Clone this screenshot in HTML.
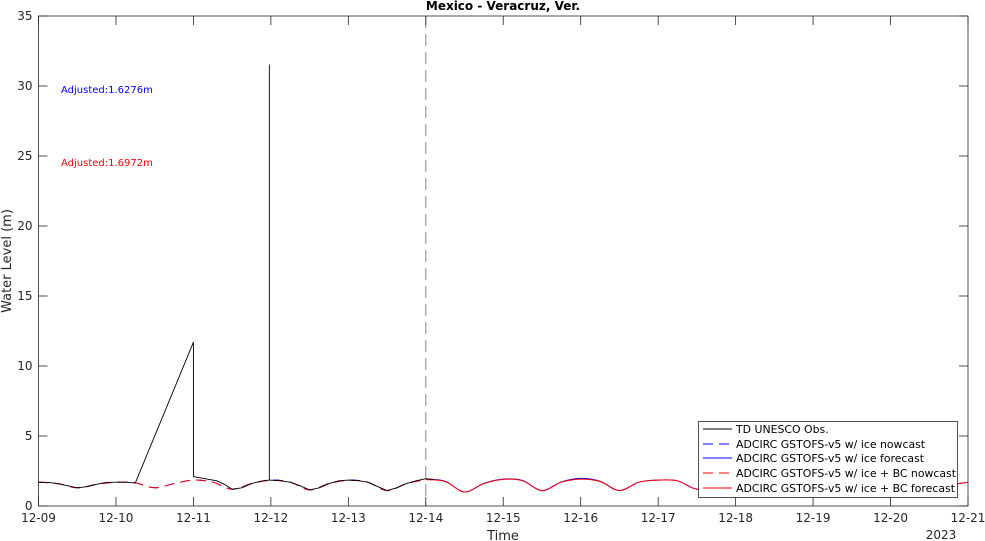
<!DOCTYPE html>
<html><head><meta charset="utf-8">
<style>
body{margin:0;background:#fff;}
svg{display:block;font-family:"DejaVu Sans","Liberation Sans",sans-serif;}
</style></head>
<body>
<svg id="chart" width="985" height="541" viewBox="0 0 985 541" xmlns="http://www.w3.org/2000/svg">
<rect x="0" y="0" width="985" height="541" fill="#fff"/>
<g id="series"></g>
<g id="axes"></g>
</svg>
<script>
// ---- data ----
const xTickLabels = ["12-09","12-10","12-11","12-12","12-13","12-14","12-15","12-16","12-17","12-18","12-19","12-20","12-21"];
const yTickValues = [0,5,10,15,20,25,30,35];
// model values every 6 h starting 12-09 00:00 (day offset)
const modelIce = [1.7,1.6,1.3,1.55, 1.7,1.65,1.3,1.6, 1.85,1.7,1.2,1.6, 1.85,1.7,1.15,1.6, 1.85,1.7,1.1,1.6, 1.92,1.77,1.0,1.62, 1.92,1.82,1.1,1.72, 1.97,1.77,1.1,1.7, 1.85,1.8,1.2,1.6, 1.7,1.6,1.3,1.5, 1.65,1.55,1.3,1.5, 1.6,1.55,1.35,1.5, 1.7];
const modelIceBC = [1.7,1.6,1.3,1.55, 1.7,1.65,1.3,1.6, 1.85,1.7,1.2,1.6, 1.83,1.7,1.15,1.6, 1.83,1.7,1.1,1.6, 1.88,1.75,1.0,1.6, 1.9,1.8,1.1,1.7, 1.92,1.75,1.1,1.7, 1.85,1.8,1.2,1.6, 1.7,1.6,1.3,1.5, 1.65,1.55,1.3,1.5, 1.6,1.55,1.35,1.5, 1.7];
const forecastStartDay = 5; // 12-14
// observations: [dayOffset, value]
const obsT = [0,0.125,0.25,0.375,0.5,0.625,0.75,0.875,1,1.125,1.25, 2.0,2.0,2.3,2.4,2.5,2.625,2.75,2.875,2.98,2.98,2.98,3.125,3.25,3.375,3.5,3.625,3.75,3.875,4,4.125,4.25,4.375,4.5,4.625,4.75,4.875,5,5.1];
const obsV = [1.7,1.68,1.6,1.45,1.3,1.38,1.55,1.68,1.7,1.7,1.65, 11.7,2.1,1.8,1.55,1.2,1.3,1.6,1.78,1.85,31.5,1.85,1.8,1.7,1.45,1.15,1.3,1.6,1.8,1.85,1.82,1.7,1.4,1.1,1.3,1.6,1.8,1.95,1.9];

// ---- axes ----
const X0=38.5, X1=968, Y0=506, Y1=16;
const xs = d => X0 + d*(X1-X0)/12;
const ys = v => Y0 - v*(Y0-Y1)/35;
const NS="http://www.w3.org/2000/svg";
function mk(tag, attrs, parent, text){const e=document.createElementNS(NS,tag);for(const k in attrs)e.setAttribute(k,attrs[k]);if(text!==undefined)e.textContent=text;parent.appendChild(e);return e;}
const axes=document.getElementById('axes'), ser=document.getElementById('series');

function smoothPath(pts){
  let d=`M${pts[0][0]},${pts[0][1]}`;
  for(let i=0;i<pts.length-1;i++){
    const p0=pts[i-1]||pts[i],p1=pts[i],p2=pts[i+1],p3=pts[i+2]||p2;
    d+=` C${p1[0]+(p2[0]-p0[0])/6},${p1[1]+(p2[1]-p0[1])/6} ${p2[0]-(p3[0]-p1[0])/6},${p2[1]-(p3[1]-p1[1])/6} ${p2[0]},${p2[1]}`;
  }
  return d;
}
function modelPts(arr,from,to){const p=[];arr.forEach((v,i)=>{const t=i*0.25;if(t>=from-1e-9&&t<=to+1e-9)p.push([xs(t),ys(v)]);});return p;}

const lines=[
 [modelIce,0,forecastStartDay,'#0000ff','10,6','ice-nowcast-line'],
 [modelIce,forecastStartDay,12,'#0000ff',null,'ice-forecast-line'],
 [modelIceBC,0,forecastStartDay,'#ff0000','10,6','ice-bc-nowcast-line'],
 [modelIceBC,forecastStartDay,12,'#ff0000',null,'ice-bc-forecast-line']];
lines.forEach(l=>{
  const a={d:smoothPath(modelPts(l[0],l[1],l[2])),fill:'none',stroke:l[3],'stroke-width':1};
  if(l[4])a['stroke-dasharray']=l[4];
  const e=mk('path',a,ser);
  
  
});
let od='';obsT.forEach((t,i)=>{od+=(i?'L':'M')+xs(t).toFixed(2)+','+ys(obsV[i]).toFixed(2)+' ';});
const ob=mk('path',{d:od,fill:'none',stroke:'#000','stroke-width':0.9,'stroke-linejoin':'round'},ser);



const dv=mk('line',{x1:xs(forecastStartDay),x2:xs(forecastStartDay),y1:Y1,y2:Y0,stroke:'#888','stroke-dasharray':'12,6','stroke-width':1},ser);



const fr=mk('rect',{x:X0,y:Y1,width:X1-X0,height:Y0-Y1,fill:'none',stroke:'#262626','stroke-width':0.8},axes);


xTickLabels.forEach((lab,i)=>{
  const x=xs(i);
  mk('line',{x1:x,x2:x,y1:Y0,y2:Y0-9,stroke:'#262626','stroke-width':0.8},axes);
  mk('line',{x1:x,x2:x,y1:Y1,y2:Y1+9,stroke:'#262626','stroke-width':0.8},axes);
  const t=mk('text',{x:x,y:522,'font-size':12,'text-anchor':'middle',fill:'#262626'},axes,lab);
  
  
});
yTickValues.forEach(v=>{
  const y=ys(v);
  mk('line',{x1:X0,x2:X0+9,y1:y,y2:y,stroke:'#262626','stroke-width':0.8},axes);
  mk('line',{x1:X1,x2:X1-9,y1:y,y2:y,stroke:'#262626','stroke-width':0.8},axes);
  const t=mk('text',{x:X0-6,y:y+4,'font-size':12,'text-anchor':'end',fill:'#262626'},axes,String(v));
  
  
});
</script>
<svg style="position:absolute;left:0;top:0" width="985" height="541">
<text x="503" y="10" font-size="12" font-weight="bold" text-anchor="middle" fill="#000">Mexico - Veracruz, Ver.</text>
<text x="503" y="540" font-size="13" text-anchor="middle" fill="#262626">Time</text>
<text x="941" y="539" font-size="12" text-anchor="middle" fill="#262626">2023</text>
<text transform="translate(11,261) rotate(-90)" font-size="13" text-anchor="middle" fill="#262626">Water Level (m)</text>
<text x="61" y="93" font-size="10" fill="#0000ff">Adjusted:1.6276m</text>
<text x="61" y="166" font-size="10" fill="#ff0000">Adjusted:1.6972m</text>
<g font-size="10.9" fill="#000">
<rect x="698.5" y="421.5" width="259" height="76" fill="#fff" stroke="#262626" stroke-width="0.8"/>
<g><line x1="703" x2="732" y1="429" y2="429" stroke="#000"/><text x="736" y="433">TD UNESCO Obs.</text></g>
<g><line x1="703" x2="732" y1="444" y2="444" stroke="#0000ff" stroke-dasharray="10,6"/><text x="736" y="448">ADCIRC GSTOFS-v5 w/ ice nowcast</text></g>
<g><line x1="703" x2="732" y1="458" y2="458" stroke="#0000ff"/><text x="736" y="462">ADCIRC GSTOFS-v5 w/ ice forecast</text></g>
<g><line x1="703" x2="732" y1="473" y2="473" stroke="#ff0000" stroke-dasharray="10,6"/><text x="736" y="477">ADCIRC GSTOFS-v5 w/ ice + BC nowcast</text></g>
<g><line x1="703" x2="732" y1="488" y2="488" stroke="#ff0000"/><text x="736" y="492">ADCIRC GSTOFS-v5 w/ ice + BC forecast</text></g>
</g>
</svg>
</body></html>
